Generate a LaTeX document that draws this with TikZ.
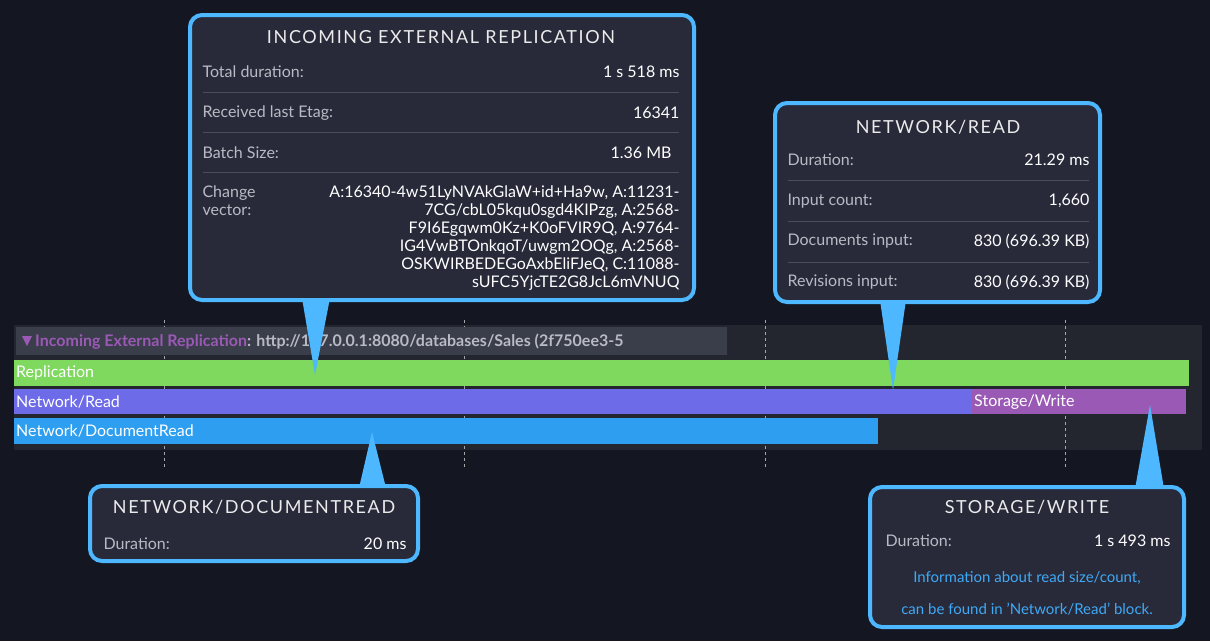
\documentclass[tikz,border=0pt]{standalone}
\usepackage{fontspec}
\setmainfont{Lato}
\definecolor{bgdark}{HTML}{141722}
\definecolor{lanebg}{HTML}{23262F}
\definecolor{headbg}{HTML}{3A3D4A}
\definecolor{tipbg}{HTML}{282A3A}
\definecolor{tipedge}{HTML}{4DB8FF}
\definecolor{sepline}{HTML}{4A4D5C}
\definecolor{labgray}{HTML}{B8BAC4}
\definecolor{replgreen}{HTML}{7ED95E}
\definecolor{readviolet}{HTML}{6E6BE8}
\definecolor{writepurple}{HTML}{9B59B6}
\definecolor{docblue}{HTML}{2E9FF0}
\definecolor{hintblue}{HTML}{3FA9F5}
\usetikzlibrary{positioning,calc}

\tikzset{
  tip/.style={fill=tipbg, draw=tipedge, line width=4pt, rounded corners=12pt},
  pointer/.style={fill=tipedge},
  title/.style={font=\fontsize{18}{18}\selectfont\addfontfeature{LetterSpace=9}, text=white!92!black},
  lab/.style={anchor=west, font=\fontsize{16}{18}\selectfont, text=labgray},
  val/.style={anchor=east, font=\fontsize{16}{18}\selectfont, text=white},
  sep/.style={draw=sepline, line width=0.8pt},
  bar/.style={anchor=west, font=\fontsize{16}{16}\selectfont, text=white, inner sep=2pt},
  grid/.style={draw=gray!70, dashed, line width=0.8pt}
}

\begin{document}
\begin{tikzpicture}[x=1pt, y=-1pt]
  \fill[bgdark] (0,0) rectangle (1210,641);
  \useasboundingbox (0,0) rectangle (1210,641);

  % Timeline lane
  \fill[lanebg] (14,325) rectangle (1202,450);
  \foreach \gx in {164,464,765,1065}
    \draw[grid] (\gx,320) -- (\gx,468);
  \fill[headbg] (16,327) rectangle (727,355);
  \fill[writepurple] (22,336) -- (32,336) -- (27,346) -- cycle;
  \node[anchor=west, inner sep=0pt, font=\fontsize{16}{16}\selectfont\bfseries] (head) at (35,342)
    {\textcolor{writepurple}{Incoming External Replication}\textcolor{labgray}{: http://127.0.0.1:8080/databases/Sales (2f750ee3-5}};

  % Bars
  \fill[replgreen] (14,360) rectangle (1189,386);
  \fill[readviolet] (14,389) rectangle (972,414);
  \fill[writepurple] (972,389) rectangle (1186,414);
  \fill[docblue] (14,418) rectangle (878,444);
  \node[bar] (replbar) at (14,373) {Replication};
  \node[bar] (readbar) at (14,402) {Network/Read};
  \node[bar] (writebar) at (972,402) {Storage/Write};
  \node[bar] (docbar) at (14,431) {Network/DocumentRead};

  % Pointers
  \coordinate (replhit) at (315,375);
  \coordinate (readhit) at (893,390);
  \coordinate (dochit) at (372,432);
  \coordinate (writehit) at (1150,405);
  \fill[pointer] (302,298) -- (replhit) -- (330,298) -- cycle;
  \fill[pointer] (880,300) -- (readhit) -- (906,300) -- cycle;
  \fill[pointer] (359,488) -- (dochit) -- (386,488) -- cycle;
  \fill[pointer] (1135,489) -- (writehit) -- (1164,489) -- cycle;

  % Incoming external replication
  \draw[tip] (190,15) rectangle (694,300);
  \node[title] (repltitle) at (441,37) {INCOMING EXTERNAL REPLICATION};
  \node[lab] at (199,72) {Total duration:};
  \node[val] at (683,72) {1 s 518 ms};
  \draw[sep] (203,92) -- (679,92);
  \node[lab] at (199,113) {Received last Etag:};
  \node[val] at (683,113) {16341};
  \draw[sep] (203,132) -- (679,132);
  \node[lab] at (199,153) {Batch Size:};
  \node[val] at (675,153) {1.36 MB};
  \draw[sep] (203,172) -- (679,172);
  \node[lab, anchor=north west, align=left] at (199,182) {Change\\vector:};
  \node[val, anchor=north east, align=right] at (683,182)
    {A:16340-4w51LyNVAkGlaW+id+Ha9w, A:11231-\\7CG/cbL05kqu0sgd4KIPzg, A:2568-\\F9I6Egqwm0Kz+K0oFVIR9Q, A:9764-\\IG4VwBTOnkqoT/uwgm2OQg, A:2568-\\OSKWIRBEDEGoAxbEliFJeQ, C:11088-\\sUFC5YjcTE2G8JcL6mVNUQ};

  % Network/Read
  \draw[tip] (775,103) rectangle (1100,302);
  \node[title] (readtitle) at (938,127) {NETWORK/READ};
  \node[lab] at (784,160) {Duration:};
  \node[val] at (1093,160) {21.29 ms};
  \draw[sep] (788,180) -- (1089,180);
  \node[lab] at (784,201) {Input count:};
  \node[val] at (1093,201) {1,660};
  \draw[sep] (788,221) -- (1089,221);
  \node[lab] at (784,241) {Documents input:};
  \node[val] at (1093,241) {830 (696.39 KB)};
  \draw[sep] (788,262) -- (1089,262);
  \node[lab] at (784,282) {Revisions input:};
  \node[val] at (1093,282) {830 (696.39 KB)};

  % Network/DocumentRead
  \draw[tip] (90,486) rectangle (418,561);
  \node[title] (doctitle) at (254,507) {NETWORK/DOCUMENTREAD};
  \node[lab] at (100,544) {Duration:};
  \node[val] at (410,544) {20 ms};

  % Storage/Write
  \draw[tip] (870,487) rectangle (1184,627);
  \node[title] (writetitle) at (1027,507) {STORAGE/WRITE};
  \node[lab] at (882,541) {Duration:};
  \node[val] at (1174,541) {1 s 493 ms};
  \node[font=\fontsize{15}{15}\selectfont, text=hintblue] at (1027,578) {Information about read size/count,};
  \node[font=\fontsize{15}{15}\selectfont, text=hintblue] at (1027,609) {can be found in 'Network/Read' block.};
\end{tikzpicture}
\end{document}
